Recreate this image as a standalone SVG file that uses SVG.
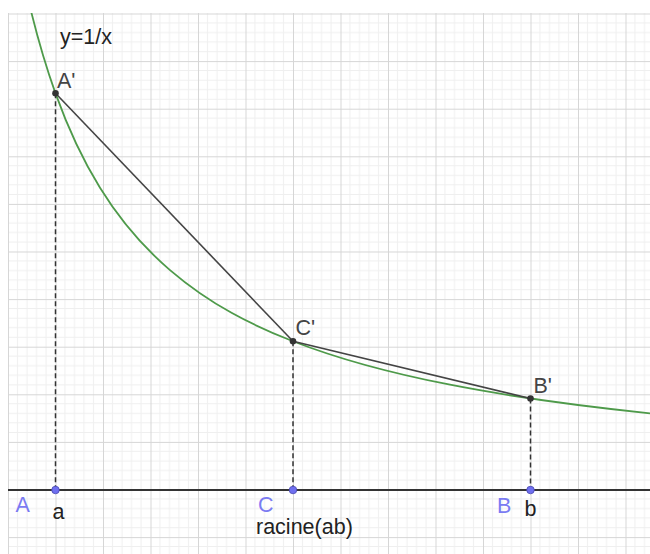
<svg xmlns="http://www.w3.org/2000/svg" width="650" height="554" viewBox="0 0 650 554">
  <style>
    .lbl { font-family: "Liberation Sans", Arial, sans-serif; font-size: 21.5px; fill: #222; }
    .plbl { font-family: "Liberation Sans", Arial, sans-serif; font-size: 21.5px; fill: #444; }
    .blue { font-family: "Liberation Sans", Arial, sans-serif; font-size: 21.5px; fill: #7b7bf2; }
    .seg { stroke: #444; stroke-width: 1.6; fill: none; }
    .dash { stroke: #333; stroke-width: 1.5; stroke-dasharray: 5 3; fill: none; }
    .curve { stroke: #4e9a4a; stroke-width: 1.8; fill: none; }
    .pt { fill: #333; }
    .bpt { fill: #6f6ff0; stroke: #4a4ab0; stroke-width: 0.8; }
    .minor { stroke: #efefef; stroke-width: 1; }
    .major { stroke: #d6d6d6; stroke-width: 1; }
  </style>
  <defs>
    <pattern id="grid" patternUnits="userSpaceOnUse" x="8" y="13.5" width="47.5" height="47.6">
      <line class="minor" x1="9.5" y1="0" x2="9.5" y2="47.6"/>
      <line class="minor" x1="19" y1="0" x2="19" y2="47.6"/>
      <line class="minor" x1="28.5" y1="0" x2="28.5" y2="47.6"/>
      <line class="minor" x1="38" y1="0" x2="38" y2="47.6"/>
      <line class="minor" x1="0" y1="9.52" x2="47.5" y2="9.52"/>
      <line class="minor" x1="0" y1="19.04" x2="47.5" y2="19.04"/>
      <line class="minor" x1="0" y1="28.56" x2="47.5" y2="28.56"/>
      <line class="minor" x1="0" y1="38.08" x2="47.5" y2="38.08"/>
      <line class="major" x1="0.5" y1="0" x2="0.5" y2="47.6"/>
      <line class="major" x1="0" y1="0.5" x2="47.5" y2="0.5"/>
    </pattern>
    <clipPath id="area">
      <rect x="8" y="13" width="642" height="541"/>
    </clipPath>
  </defs>
  <rect width="650" height="554" fill="#ffffff"/>
  <rect x="8" y="13" width="642" height="541" fill="url(#grid)"/>

  <g id="connectors" clip-path="url(#area)">
    <line x1="8" y1="490" x2="650" y2="490" stroke="#333" stroke-width="1.8"/>
    <path id="curve" class="curve" d="M31,10.97 C39.17,44.12 47.33,70.60 55.5,93.33 C70.33,134.62 85.17,163.75 100,187.73 C123.33,225.45 146.67,250.09 170,270.06 C211,305.15 252,325.20 293,341.25 C345.33,361.74 397.67,374.48 450,384.74 C516.67,397.81 583.33,406.36 650,413.30"/>
    <line class="dash" x1="55.5" y1="93.3" x2="55.5" y2="490"/>
    <line class="dash" x1="293" y1="341.25" x2="293" y2="490"/>
    <line class="dash" x1="530.5" y1="398.5" x2="530.5" y2="490"/>
    <line class="seg" x1="55.5" y1="93.3" x2="293" y2="341.25"/>
    <line class="seg" x1="293" y1="341.25" x2="530.5" y2="398.5"/>
  </g>

  <g id="func-label"><text class="lbl" x="60" y="43.5">y=1/x</text></g>

  <g id="A-prime"><circle class="pt" cx="55.5" cy="93.3" r="3.3"/><text class="plbl" x="57" y="88">A'</text></g>
  <g id="C-prime"><circle class="pt" cx="293" cy="341.25" r="3.3"/><text class="plbl" x="295.5" y="334.5">C'</text></g>
  <g id="B-prime"><circle class="pt" cx="530.5" cy="398.5" r="3.3"/><text class="plbl" x="533.5" y="392.5">B'</text></g>

  <g id="A"><circle class="bpt" cx="55.5" cy="490" r="3.8"/><text class="blue" x="15.5" y="512">A</text><text class="lbl" x="52.5" y="519">a</text></g>
  <g id="C"><circle class="bpt" cx="293" cy="490" r="3.8"/><text class="blue" x="258" y="511.5">C</text><text class="lbl" x="256" y="533.5">racine(ab)</text></g>
  <g id="B"><circle class="bpt" cx="530.5" cy="490" r="3.8"/><text class="blue" x="497" y="513">B</text><text class="lbl" x="524.5" y="516">b</text></g>
</svg>
